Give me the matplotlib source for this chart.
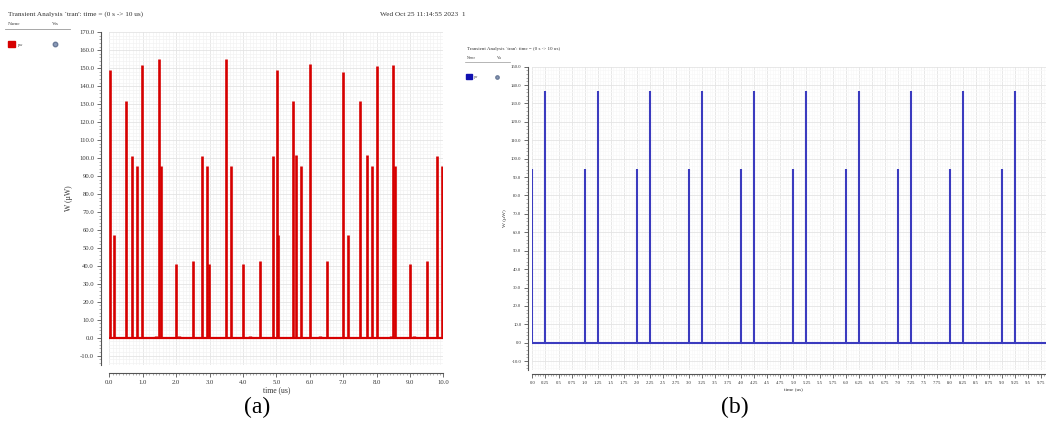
import numpy as np
import matplotlib
matplotlib.use("Agg")
import matplotlib.pyplot as plt
from matplotlib.ticker import MultipleLocator, FixedLocator, FuncFormatter

plt.rcParams['font.family'] = ['Liberation Serif', 'DejaVu Serif']

# ---- data ----------------------------------------------------------------
# (a) red trace: spike times (us) and peak power (uW)
t_a = [0.02, 0.13, 0.50, 0.69, 0.84, 0.99, 1.50, 1.54, 2.00, 2.50,
       2.79, 2.94, 2.99, 3.49, 3.64, 3.99, 4.51, 4.89, 5.01, 5.05,
       5.49, 5.58, 5.75, 6.01, 6.51, 7.00, 7.15, 7.52, 7.71, 7.86,
       8.01, 8.50, 8.55, 9.01, 9.52, 9.81, 9.96]
p_a = [149, 57, 132, 101, 95.5, 152, 155, 95.5, 41, 42.5,
       101, 95.5, 41, 155, 95.5, 41, 42.5, 101, 149, 57,
       132, 101.5, 95.5, 152.5, 42.5, 148, 57, 132, 101.5, 95.5,
       151.5, 152, 95.5, 41, 42.5, 101, 95.5]
t_a_small = [1.40, 2.10, 4.20, 6.30, 8.42, 9.12]
p_a_small = [1.0, 1.0, 1.0, 1.0, 1.0, 1.0]

# (b) blue trace
t_b_low = [0.0, 1.0, 2.0, 3.0, 4.0, 5.0, 6.0, 7.0, 8.0, 9.0]
p_b_low = [94.5] * 10
t_b_high = [0.25, 1.25, 2.25, 3.25, 4.25, 5.25, 6.25, 7.25, 8.25, 9.25]
p_b_high = [137.0] * 10
t_b_small = [0.5, 1.5, 2.5, 3.5, 4.5, 5.5, 6.5, 7.5, 8.5, 9.5]
p_b_small = [0.6] * 10
# only these labels fit inside the cropped picture
ticks_b = [0.0, 0.25, 0.5, 0.75, 1.0, 1.25, 1.5, 1.75, 2.0, 2.25, 2.5, 2.75,
           3.0, 3.25, 3.5, 3.75, 4.0, 4.25, 4.5, 4.75, 5.0, 5.25, 5.5, 5.75,
           6.0, 6.25, 6.5, 6.75, 7.0, 7.25, 7.5, 7.75, 8.0, 8.25, 8.5, 8.75,
           9.0, 9.25, 9.5, 9.75]

t_stop = 10.0
header = "Transient Analysis `tran': time = (0 s -> 10 us)"
stamp = "Wed Oct 25 11:14:55 2023  1"

red = '#d60000'
blue = '#3b3bbf'

W, H = 1046, 426
fig = plt.figure(figsize=(W / 100, H / 100), dpi=100)


def px(x0, y0, x1, y1):
    # pixel box (top-left origin) -> figure fraction rect
    return [x0 / W, 1 - y1 / H, (x1 - x0) / W, (y1 - y0) / H]


def style_axes(ax, fs, xmin, ymaj, ymin, xfmt, off, minor_col):
    ax.xaxis.set_minor_locator(MultipleLocator(xmin))
    ax.yaxis.set_major_locator(MultipleLocator(ymaj))
    ax.yaxis.set_minor_locator(MultipleLocator(ymin))
    ax.xaxis.set_major_formatter(FuncFormatter(xfmt))
    ax.yaxis.set_major_formatter(FuncFormatter(lambda v, p: "%.1f" % v))
    ax.grid(True, which='major', color='#e4e4e4', lw=0.6)
    ax.grid(True, which='minor', color=minor_col, lw=0.5)
    ax.set_axisbelow(True)
    for s in ['top', 'right']:
        ax.spines[s].set_visible(False)
    for s in ['left', 'bottom']:
        ax.spines[s].set_position(('outward', off))
        ax.spines[s].set_color('#555555')
        ax.spines[s].set_linewidth(0.8)
    ax.tick_params(which='major', length=3, width=0.6, labelsize=fs,
                   colors='#555555', labelcolor='#333333', pad=2)
    ax.tick_params(which='minor', length=1.5, width=0.4, colors='#777777')


# ---- (a) ------------------------------------------------------------------
ax1 = fig.add_axes(px(109.3, 32.3, 443.3, 364.6))
ax1.hlines(0, 0, t_stop, color=red, lw=1.6)
ax1.vlines(t_a, 0, p_a, color=red, lw=1.9)
ax1.vlines(t_a_small, 0, p_a_small, color=red, lw=2.5)
ax1.set_xlim(0, t_stop)
ax1.set_ylim(-15, 170)
ax1.xaxis.set_major_locator(MultipleLocator(1.0))
style_axes(ax1, 4.8, 0.1, 10, 2, lambda v, p: "%.1f" % v, 6, '#f3f3f3')
ax1.set_xlabel("time (us)", fontsize=5.5, labelpad=1, color='#333333')
ax1.set_ylabel("W (\u00b5W)", fontsize=5.5, labelpad=4, color='#333333')

fig.text(8 / W, 1 - 14 / H, header, fontsize=5.2, va='center', color='#333333')
fig.text(465 / W, 1 - 14 / H, stamp, fontsize=5.2, va='center', ha='right',
         color='#333333')
fig.text(8 / W, 1 - 24 / H, "Name", fontsize=3.8, va='center', color='#444444')
fig.text(52 / W, 1 - 24 / H, "Vis", fontsize=3.8, va='center', color='#444444')
fig.add_artist(plt.Line2D([5 / W, 70 / W], [1 - 29 / H, 1 - 29 / H],
                          color='#999999', lw=0.6))
fig.add_artist(plt.Rectangle((8 / W, 1 - 47 / H), 7 / W, 6 / H, color=red))
fig.text(18 / W, 1 - 45 / H, "pw", fontsize=3.2, va='center', color='#444444')
fig.add_artist(plt.Line2D([55 / W], [1 - 44 / H], marker='o', ms=3.2,
                          color='#8a9ab8', mec='#6a7a98'))

# ---- (b) ------------------------------------------------------------------
ax2 = fig.add_axes(px(532.4, 66.7, 1054.4, 370.3))
ax2.hlines(0, 0, t_stop, color=blue, lw=1.5)
ax2.vlines(t_b_low, 0, p_b_low, color=blue, lw=1.5)
ax2.vlines(t_b_high, 0, p_b_high, color=blue, lw=1.5)
ax2.vlines(t_b_small, 0, p_b_small, color=blue, lw=1.8)
ax2.set_xlim(0, t_stop)
ax2.set_ylim(-15, 150)


def fmt_b(v, p):
    s = ("%.2f" % v).rstrip('0')
    return s + '0' if s.endswith('.') else s


ax2.xaxis.set_major_locator(FixedLocator(ticks_b))
style_axes(ax2, 3.4, 0.05, 10, 2, fmt_b, 3, '#f8f8f8')
ax2.set_xlabel("time (us)", fontsize=3.8, labelpad=1, color='#333333')
ax2.set_ylabel("W (\u00b5W)", fontsize=3.8, labelpad=3, color='#333333')

fig.text(467 / W, 1 - 49 / H, header, fontsize=3.6, va='center',
         color='#333333')
fig.text(467 / W, 1 - 58 / H, "Name", fontsize=2.8, va='center', color='#444444')
fig.text(497 / W, 1 - 58 / H, "Vis", fontsize=2.8, va='center', color='#444444')
fig.add_artist(plt.Line2D([465 / W, 510 / W], [1 - 62 / H, 1 - 62 / H],
                          color='#999999', lw=0.5))
fig.add_artist(plt.Rectangle((466 / W, 1 - 79 / H), 6 / W, 5 / H, color='#1010b0'))
fig.text(474 / W, 1 - 77 / H, "pw", fontsize=2.6, va='center', color='#444444')
fig.add_artist(plt.Line2D([497 / W], [1 - 77 / H], marker='o', ms=2.4,
                          color='#8a9ab8', mec='#6a7a98'))

# captions
fig.text(257 / W, 1 - 407 / H, "(a)", fontsize=17, ha='center', va='center')
fig.text(735 / W, 1 - 407 / H, "(b)", fontsize=17, ha='center', va='center')

fig.savefig("out.png", dpi=100)
